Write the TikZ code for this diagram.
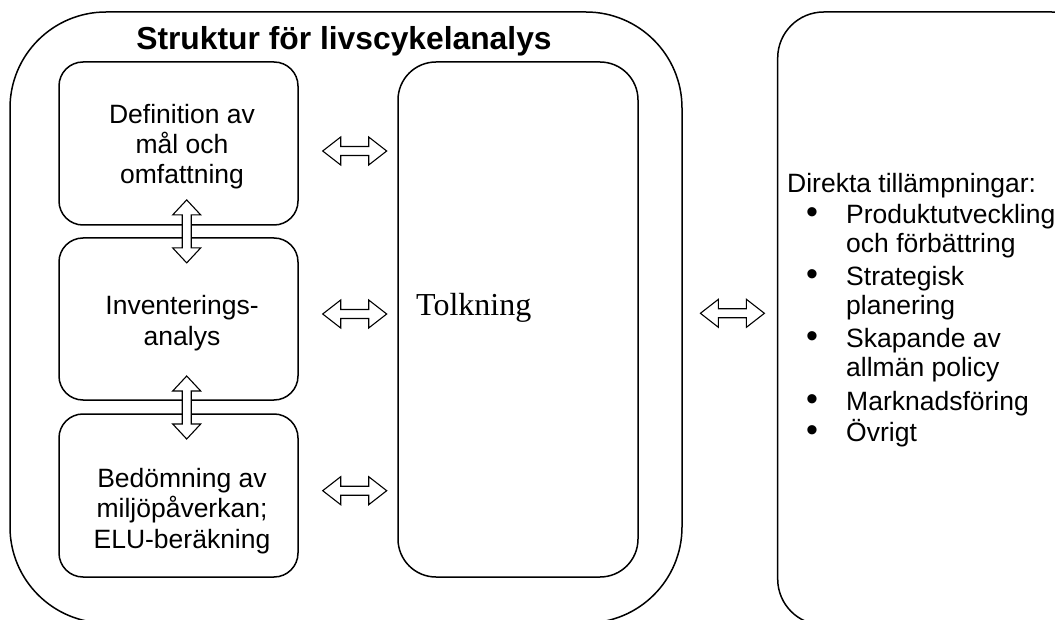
\documentclass[tikz,border=0pt]{standalone}
\usepackage{fontspec}
\setmainfont{Liberation Sans}
\newfontfamily\serifface{Liberation Serif}
\begin{document}
\begin{tikzpicture}[x=1pt,y=-1pt,
  panel/.style={draw, line width=1.5pt, rounded corners=#1, inner sep=0pt},
  txt/.style={anchor=base, inner sep=0pt, font=\fontsize{26.5}{30}\selectfont},
  ltxt/.style={anchor=base west, inner sep=0pt, font=\fontsize{26.5}{30}\selectfont},
  hdbl/.pic={\draw[line width=1.1pt, fill=white, line join=miter]
    (-32,0) -- (-14,-14) -- (-14,-4.5) -- (14,-4.5) -- (14,-14) -- (32,0)
    -- (14,14) -- (14,4.5) -- (-14,4.5) -- (-14,14) -- cycle;},
  vdbl/.pic={\draw[line width=1.1pt, fill=white, line join=miter]
    (0,-31.5) -- (14,-16.5) -- (4.5,-16.5) -- (4.5,16.5) -- (14,16.5) -- (0,31.5)
    -- (-14,16.5) -- (-4.5,16.5) -- (-4.5,-16.5) -- (-14,-16.5) -- cycle;}]
\useasboundingbox (0,0) rectangle (1055,620);
\clip (0,0) rectangle (1055,620);

% outer frame of the LCA structure
\node[panel=96pt, minimum width=672pt, minimum height=611pt] (outer) at (346,317.5) {};
\node[anchor=base, inner sep=0pt, font=\fontsize{31.8}{36}\selectfont\bfseries] (title) at (344,50) {Struktur för livscykelanalys};

% the three phase boxes
\node[panel=24pt, minimum width=239pt, minimum height=163pt] (goal) at (178.5,143.5) {};
\node[panel=24pt, minimum width=239pt, minimum height=162pt] (inv) at (178.5,319) {};
\node[panel=24pt, minimum width=239pt, minimum height=163pt] (imp) at (178.5,495.5) {};

% interpretation box
\node[panel=38pt, minimum width=240pt, minimum height=515pt] (interp) at (518,319.5) {};
\node[anchor=base west, inner sep=0pt, font=\serifface\fontsize{32}{36}\selectfont] (tolk) at (416,316) {Tolkning};

% applications box
\node[panel=46pt, minimum width=320pt, minimum height=613pt] (apps) at (937.7,318.5) {};

% phase box texts
\node[txt] (g1) at (182,124) {Definition av};
\node[txt] (g2) at (182,154) {mål och};
\node[txt] (g3) at (182,184) {omfattning};
\node[txt] (i1) at (182,315) {Inventerings-};
\node[txt] (i2) at (182,345) {analys};
\node[txt] (m1) at (182,487) {Bedömning av};
\node[txt] (m2) at (182,517) {miljöpåverkan;};
\node[txt] (m3) at (182,548) {ELU-beräkning};

% application list
\node[ltxt] (a0) at (787,193) {Direkta tillämpningar:};
\node[ltxt] (a1) at (846,224) {Produktutveckling};
\node[ltxt] (a2) at (846,253) {och förbättring};
\node[ltxt] (a3) at (846,286) {Strategisk};
\node[ltxt] (a4) at (846,315) {planering};
\node[ltxt] (a5) at (846,348) {Skapande av};
\node[ltxt] (a6) at (846,377) {allmän policy};
\node[ltxt] (a7) at (846,410) {Marknadsföring};
\node[ltxt] (a8) at (846,441) {Övrigt};
\foreach \yy/\nm in {224/1,286/2,348/3,410/4,441/5}
  \node[anchor=base, inner sep=0pt, font=\fontsize{34}{34}\selectfont] (bul\nm) at (812,\yy) {•};

% double-headed block arrows
\coordinate (h1) at (354.7,151);
\coordinate (h2) at (354.7,314);
\coordinate (h3) at (354.7,490.7);
\coordinate (h4) at (732.4,313.3);
\coordinate (v1) at (186.7,231.4);
\coordinate (v2) at (186.7,407.5);
\pic at (h1) {hdbl};
\pic at (h2) {hdbl};
\pic at (h3) {hdbl};
\pic at (h4) {hdbl};
\pic at (v1) {vdbl};
\pic at (v2) {vdbl};
\end{tikzpicture}
\end{document}
